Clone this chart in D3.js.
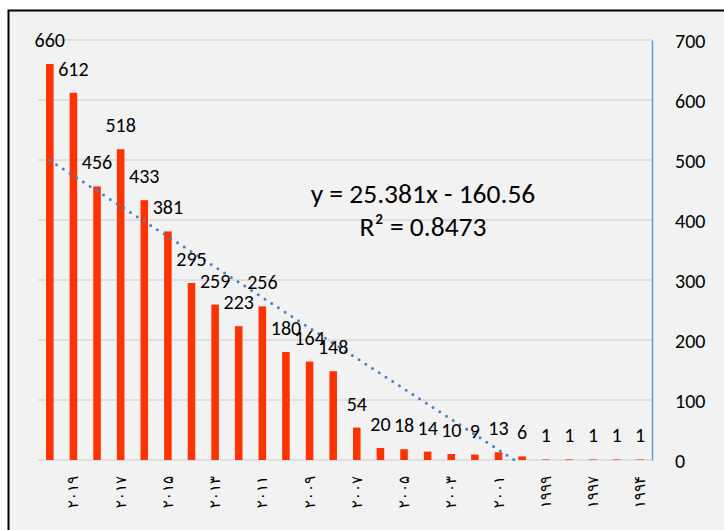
<!DOCTYPE html>
<html>
<head>
<meta charset="utf-8">
<script src="https://cdn.jsdelivr.net/npm/d3@7"></script>
<style>
  body { margin: 0; background: #fff; }
  text { font-family: Calibri, Carlito, 'Liberation Sans', Arial, sans-serif; fill: #000; }
</style>
</head>
<body>
<script>
// data, left to right (axis is reversed: newest year on the left)
const years = ['۲۰۲۰', '۲۰۱۹', '۲۰۱۸', '۲۰۱۷', '۲۰۱۶', '۲۰۱۵', '۲۰۱۴', '۲۰۱۳', '۲۰۱۲',
  '۲۰۱۱', '۲۰۱۰', '۲۰۰۹', '۲۰۰۸', '۲۰۰۷', '۲۰۰۶', '۲۰۰۵', '۲۰۰۴', '۲۰۰۳', '۲۰۰۲',
  '۲۰۰۱', '۲۰۰۰', '۱۹۹۹', '۱۹۹۸', '۱۹۹۷', '۱۹۹۵', '۱۹۹۴']
const counts = [660, 612, 456, 518, 433, 381, 295, 259, 223, 256, 180, 164, 148,
  54, 20, 18, 14, 10, 9, 13, 6, 1, 1, 1, 1, 1]
const yTicks = [0, 100, 200, 300, 400, 500, 600, 700]
// linear trendline as printed on the chart (x = 1 is the rightmost category)
const trendSlope = 25.381
const trendIntercept = -160.56
const trendText = ['y = 25.381x - 160.56', 'R² = 0.8473']

const width = 724
const height = 530
const margin = {top: 40, bottom: 70, left: 38, right: 72}

const svg = d3.select('body').append('svg')
  .attr('width', width)
  .attr('height', height)

// frame
svg.append('rect')
  .attr('x', 8.5)
  .attr('y', 10.5)
  .attr('width', 800)
  .attr('height', 600)
  .attr('fill', '#f2f2f2')
  .attr('stroke', '#000')
  .attr('stroke-width', 2)

const x = d3.scaleBand()
  .domain(d3.range(counts.length))
  .range([margin.left, width - margin.right])
  .paddingInner(0.68)
  .paddingOuter(0.34)

const xc = d3.scaleBand()
  .domain(d3.range(counts.length))
  .range([margin.left, width - margin.right])

const y = d3.scaleLinear()
  .domain([0, 700])
  .range([height - margin.bottom, margin.top])

// gridlines
svg.append('g').selectAll('line')
  .data(yTicks)
  .enter()
  .append('line')
  .attr('x1', margin.left)
  .attr('x2', width - margin.right)
  .attr('y1', d => y(d))
  .attr('y2', d => y(d))
  .attr('stroke', '#d9d9d9')
  .attr('stroke-width', 1.5)

// bars
svg.append('g').selectAll('rect')
  .data(counts)
  .enter()
  .append('rect')
  .attr('x', (d, i) => x(i))
  .attr('y', d => y(d))
  .attr('width', x.bandwidth())
  .attr('height', d => y(0) - y(d))
  .attr('fill', '#ff3300')

// right axis
const yAxis = d3.axisRight(y)
  .tickValues(yTicks)
  .tickSize(0)
  .tickPadding(23)

const ax = svg.append('g')
  .attr('transform', `translate(${width - margin.right}, 0)`)
  .call(yAxis)
ax.select('.domain').attr('stroke', '#5b9bd5').attr('stroke-width', 1.5)
ax.selectAll('text')
  .attr('font-size', 20)
  .attr('font-family', null)
  .attr('fill', '#000')
  .attr('dy', '0.36em')

// category labels, every second one counted from the right
const n = counts.length
svg.append('g').selectAll('text')
  .data(years.map((t, i) => ({t, i})).filter(d => (n - 1 - d.i) % 2 === 0))
  .enter()
  .append('text')
  .attr('transform', d => `translate(${xc(d.i) + xc.bandwidth() / 2}, 476) rotate(-90)`)
  .attr('text-anchor', 'end')
  .attr('dominant-baseline', 'central')
  .style('font-family', "'DejaVu Sans', sans-serif")
  .attr('font-size', 15)
  .text(d => d.t)

// trendline
const trend = d3.range(n).map(i => ({cx: xc(i) + xc.bandwidth() / 2, v: trendSlope * (n - i) + trendIntercept}))
const zeroX = xc(0) + xc.bandwidth() / 2 + (n - (-trendIntercept / trendSlope)) * xc.bandwidth()
const trendPts = trend.filter(p => p.v >= 0).map(p => [p.cx, y(p.v)])
trendPts.push([zeroX, y(0)])

svg.append('path')
  .attr('d', d3.line()(trendPts))
  .attr('fill', 'none')
  .attr('stroke', '#4a7fc8')
  .attr('stroke-width', 3)
  .attr('stroke-linecap', 'round')
  .attr('stroke-dasharray', '0 8')

// data labels
svg.append('g').selectAll('text')
  .data(counts)
  .enter()
  .append('text')
  .attr('x', (d, i) => xc(i) + xc.bandwidth() / 2)
  .attr('y', d => y(d) - 17)
  .attr('text-anchor', 'middle')
  .attr('font-size', 20)
  .text(d => d)

// trendline equation
svg.append('g').selectAll('text')
  .data(trendText)
  .enter()
  .append('text')
  .attr('x', 423)
  .attr('y', (d, i) => 203 + i * 33)
  .attr('text-anchor', 'middle')
  .attr('font-size', 27.5)
  .text(d => d)
</script>
</body>
</html>
